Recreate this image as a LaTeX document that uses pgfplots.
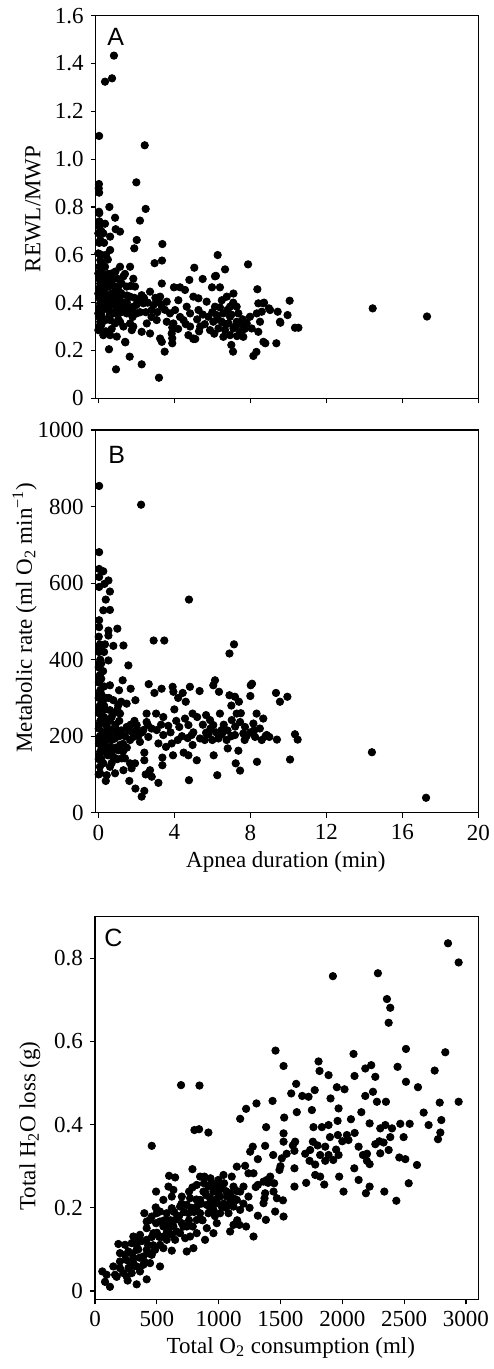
\documentclass[border=0pt]{standalone}
\usepackage{fontspec}
\setmainfont{Liberation Serif}
\newfontfamily\panelfont{Liberation Sans}
\usepackage{pgfplots}
\pgfplotsset{compat=1.18}

\pgfplotsset{
  panel/.style={
    scale only axis, width=191.3pt, height=191.3pt,
    axis line style={line width=0.6pt},
    tick align=outside, xtick pos=left, ytick pos=left,
    major tick length=2.5pt,
    every tick/.style={black,line width=0.6pt},
    tick label style={font=\fontsize{11.5}{13}\selectfont},
    label style={font=\fontsize{11.5}{13}\selectfont},
    /pgf/number format/assume math mode=true,
  },
  dots/.style={only marks, mark=*, mark size=1.85pt, draw=black, fill=black},
}

\begin{document}
\begin{tikzpicture}
\path[use as bounding box] (0,0) rectangle (246.5pt,684.5pt);

% ---- A ----
\begin{axis}[panel, at={(47.85pt,485.35pt)}, anchor=south west,
  xmin=-0.14, xmax=20, ymin=0, ymax=1.6,
  xtick={0,4,8,12,16,20}, xticklabels={},
  ytick={0,0.2,0.4,0.6,0.8,1.0,1.2,1.4,1.6},
  yticklabels={0,0.2,0.4,0.6,0.8,1.0,1.2,1.4,1.6},
  ylabel={REWL/MWP},
  ylabel style={at={(axis description cs:-0.164,0.495)}, anchor=center},
]
\addplot[dots] coordinates {
(0.82,1.433) (0.35,1.324) (0.72,1.338) (0.04,1.097) (2.44,1.058) (2.0,0.903) (0.03,0.896) (0.02,0.878) (0.04,0.860) (2.49,0.792)
(0.58,0.80) (0.03,0.78) (0.88,0.755) (2.19,0.743) (0.91,0.707) (1.14,0.697) (2.02,0.662) (1.89,0.627) (3.37,0.645) (3.35,0.576)
(2.96,0.565) (6.28,0.599) (6.67,0.539) (7.88,0.56) (5.05,0.546) (5.49,0.499) (6.19,0.512) (4.79,0.495) (3.98,0.464) (4.30,0.464)
(4.56,0.453) (5.98,0.464) (6.40,0.464) (8.37,0.456) (10.07,0.408) (8.72,0.40) (8.98,0.376) (14.44,0.376) (17.3,0.342) (9.44,0.362)
(9.96,0.348) (9.58,0.316) (10.35,0.295) (10.53,0.295) (9.37,0.23) (8.79,0.23) (8.16,0.177) (8.32,0.194) (7.09,0.195) (7.0,0.223)
(3.19,0.086) (0.93,0.121) (2.28,0.142) (1.65,0.174) (0.56,0.205) (1.42,0.234) (3.49,0.195) (3.89,0.23) (3.89,0.251) (3.89,0.296)
(5.0,0.248) (5.1,0.248)
(0.0,0.69) (0.1,0.662) (0.0,0.606) (0.1,0.578) (0.0,0.522) (0.1,0.48) (0.0,0.438) (0.1,0.397) (0.0,0.355) (0.1,0.32)
(0.0,0.285) (0.05,0.74) (0.05,0.65) (0.05,0.55) (0.05,0.50) (0.05,0.46) (0.05,0.42) (0.05,0.38) (0.05,0.34) (0.05,0.30)
(0.15,0.45) (0.15,0.36) (0.15,0.60) (0.15,0.70) (0.05,0.774) (0.05,0.718)
(0.26,0.69) (0.35,0.73) (0.62,0.676) (0.62,0.62) (0.35,0.55) (0.26,0.51) (0.53,0.467) (0.26,0.425) (0.44,0.383) (0.35,0.327)
(0.26,0.264) (0.62,0.264) (0.97,0.258) (1.14,0.55) (1.67,0.55) (1.32,0.51) (1.84,0.50) (1.05,0.467) (1.49,0.467) (1.93,0.467)
(1.14,0.425) (1.67,0.425) (0.79,0.41) (1.32,0.383) (1.84,0.383) (2.28,0.431) (0.97,0.355) (1.49,0.355) (2.02,0.355) (1.14,0.32)
(1.67,0.313) (1.84,0.30) (2.37,0.397) (2.72,0.446) (3.25,0.425) (3.34,0.48) (3.60,0.404) (2.81,0.369) (3.34,0.383) (3.77,0.355)
(3.07,0.327) (3.6,0.32) (2.55,0.313) (2.28,0.278) (2.72,0.271) (3.25,0.25) (3.34,0.236) (1.76,0.285) (1.32,0.30) (1.41,0.236)
(4.21,0.41) (4.04,0.369) (4.65,0.383) (5.0,0.425) (5.27,0.418) (4.83,0.355) (5.27,0.369) (4.48,0.327) (4.83,0.30) (5.36,0.30)
(3.95,0.313) (3.86,0.271) (4.74,0.264) (5.0,0.25) (5.7,0.404) (6.14,0.51) (6.14,0.383) (6.5,0.41) (6.76,0.425) (7.11,0.438)
(6.93,0.383) (7.28,0.383) (5.79,0.341) (6.23,0.348) (6.58,0.355) (6.93,0.341) (7.37,0.355) (6.05,0.32) (6.5,0.32) (6.85,0.313)
(7.28,0.32) (5.88,0.285) (6.32,0.292) (6.67,0.285) (7.11,0.292) (7.46,0.278) (6.93,0.264) (6.58,0.257) (7.63,0.257) (7.98,0.341)
(7.81,0.313) (8.34,0.355) (8.6,0.362) (8.51,0.32) (8.07,0.292) (8.42,0.278) (8.69,0.236) (8.42,0.397) (8.69,0.397) (9.04,0.369)
(9.56,0.32)
(0.18,0.522) (0.18,0.467) (0.18,0.369) (0.18,0.341) (0.18,0.313) (0.70,0.522) (0.70,0.438) (0.79,0.355) (0.62,0.327) (0.88,0.313)
(1.05,0.383) (1.23,0.48) (0.53,0.369) (0.44,0.495) (0.4,0.6) (0.5,0.58) (0.3,0.65) (0.2,0.56) (0.9,0.53) (0.6,0.42)
(0.8,0.47) (1.0,0.42) (1.2,0.36) (1.5,0.40) (1.7,0.37) (2.1,0.41) (2.5,0.36) (2.9,0.39) (3.1,0.36) (0.4,0.28) (0.7,0.29)
(0.3,0.45) (0.4,0.40) (0.5,0.52) (0.6,0.35) (0.7,0.48) (0.8,0.39) (0.9,0.45) (1.0,0.50) (1.1,0.37) (1.2,0.44)
(1.3,0.40) (1.4,0.52) (1.5,0.43) (1.6,0.38) (1.7,0.47) (1.8,0.34) (1.9,0.42) (2.0,0.39) (2.2,0.36) (2.4,0.42)
(2.6,0.40) (2.8,0.34) (3.0,0.42) (3.2,0.40) (3.5,0.37) (0.25,0.38) (0.35,0.47) (0.45,0.33) (0.55,0.43) (0.65,0.50)
(0.75,0.40) (0.85,0.36) (0.95,0.40) (1.05,0.33) (0.12,0.40) (0.12,0.50) (0.12,0.55) (0.12,0.30)
(4.3,0.34) (4.6,0.31) (5.2,0.33) (5.5,0.35) (5.6,0.31) (6.0,0.36) (6.3,0.33) (6.7,0.31) (7.0,0.35) (7.2,0.30)
(7.5,0.31) (7.7,0.29) (6.8,0.37) (6.4,0.38) (7.1,0.40) (7.6,0.33) (4.2,0.29) (5.3,0.28) (6.1,0.27) (7.3,0.26)
};
\node[anchor=north west, inner sep=0pt, font=\panelfont\fontsize{12.5}{14}\selectfont] at (rel axis cs:0.0295,0.968) {A};
\end{axis}

% ---- B ----
\begin{axis}[panel, at={(47.85pt,278.15pt)}, anchor=south west,
  xmin=-0.14, xmax=20, ymin=0, ymax=1000,
  xtick={0,4,8,12,16,20}, xticklabels={0,4,8,12,16,20},
  ytick={0,200,400,600,800,1000}, yticklabels={0,200,400,600,800,1000},
  xlabel={Apnea duration (min)},
  xlabel style={at={(axis description cs:0.497,-0.128)}, anchor=center},
  ylabel={Metabolic rate (ml O\textsubscript{2} min\textsuperscript{−1})},
  ylabel style={at={(axis description cs:-0.186,0.51)}, anchor=center},
]
\addplot[dots] coordinates {
(0.04,854) (2.25,805) (0.04,681) (0.04,637) (0.26,631) (0.04,616) (0.53,607) (0.04,590) (0.32,598) (0.39,557)
(0.61,578) (0.26,529) (0.04,503) (0.04,485) (0.61,530) (4.77,557) (0.53,476) (0.53,463) (1.0,481) (0.79,436)
(1.32,437) (2.91,450) (3.47,450) (7.14,440) (6.9,416) (1.58,385) (0.53,398) (2.65,336) (1.28,346) (1.70,324)
(0.61,333) (1.09,320) (1.95,294) (2.95,313) (3.33,324) (3.91,329) (3.95,316) (4.44,313) (4.82,329) (5.33,318)
(6.14,346) (6.05,333) (6.35,316) (6.9,307) (7.19,303) (8.02,333) (8.09,337) (8.0,305) (9.35,313) (9.95,303)
(9.56,290) (10.35,205) (10.49,191) (9.4,191) (10.09,139) (14.4,158) (17.25,39) (2.28,42) (2.42,57) (1.95,63)
(3.16,78) (4.77,85) (0.39,83) (1.63,83) (7.46,110) (6.26,98) (7.23,129) (8.35,133) (5.18,137) (6.07,150)
(4.74,150) (3.93,150) (3.37,124) (3.37,144) (2.42,137) (2.42,157) (7.37,162) (4.49,157)
(3.42,250) (3.04,259) (3.68,227) (3.07,216) (3.42,203) (3.16,181) (3.56,172) (3.86,181) (4.18,190) (4.26,224)
(4.56,246) (4.96,259) (4.74,229) (4.91,203) (4.96,177) (5.35,194) (5.67,255) (5.88,242) (5.67,209) (6.05,229)
(6.40,259) (6.49,216) (6.32,194) (6.75,190) (6.81,168) (7.02,242) (7.28,259) (7.46,237) (7.19,203) (7.63,207)
(7.72,224) (8.16,233) (8.33,259) (8.68,246) (8.25,198) (8.6,190) (8.86,203) (9.0,198) (2.54,259) (2.54,237)
(2.63,198) (2.37,216) (2.02,229) (2.19,185) (1.84,198) (1.49,224) (1.67,190) (1.93,129) (1.75,116) (1.40,142)
(1.32,111) (1.67,129) (2.72,111) (2.81,94) (2.49,100) (1.14,259) (1.05,281) (1.49,285) (0.79,294) (0.61,268)
(0.53,242) (0.88,224) (0.44,207) (0.88,194) (1.14,177) (0.61,172) (0.44,155) (0.79,146) (0.26,129) (0.61,120)
(0.88,103) (0.44,98) (0.09,103) (1.05,163) (1.23,142)
(0.02,100) (0.08,120) (0.02,140) (0.1,160) (0.03,180) (0.08,200) (0.02,220) (0.1,240) (0.03,260) (0.08,280)
(0.02,300) (0.1,320) (0.03,340) (0.08,360) (0.02,380) (0.1,400) (0.03,420) (0.08,440) (0.02,460) (0.05,150)
(0.05,190) (0.05,230) (0.05,270) (0.05,310) (0.05,350) (0.05,390) (0.05,430) (0.2,170) (0.25,210) (0.3,250)
(0.2,290) (0.3,330) (0.25,370) (0.3,420) (0.35,440) (0.4,300) (0.4,190) (0.5,220) (0.6,200) (0.7,250)
(0.8,215) (1.0,205) (1.2,215) (1.4,200) (1.6,215) (1.8,210) (2.0,215) (0.7,160) (0.9,170) (1.1,200)
(0.35,270) (0.55,300)
(4.0,270) (4.4,200) (5.0,210) (5.5,230) (6.2,210) (6.6,230) (7.0,200) (7.5,260) (8.0,210) (8.5,220)
(5.8,205) (6.0,190) (7.8,200) (4.2,300) (4.6,290) (7.0,280) (7.4,290)
(0.3,180) (0.5,170) (0.7,190) (0.9,230) (1.1,240) (1.3,180) (1.5,170) (1.7,230) (1.9,240) (2.1,200)
(2.3,210) (2.6,230) (2.8,220) (0.4,230) (0.6,240) (0.8,260) (1.0,270) (1.2,290) (0.3,280) (0.5,150)
(0.7,130) (1.0,140) (1.3,160) (0.2,250) (0.15,310) (0.15,350) (0.15,390) (0.2,200) (0.15,140)
(5.2,250) (5.6,190) (6.8,215) (7.2,225) (7.7,190) (8.2,215) (8.8,200) (6.5,205) (5.9,220) (4.7,195)
(3.8,210) (3.3,230) (4.1,240)
};
\node[anchor=north west, inner sep=0pt, font=\panelfont\fontsize{12.5}{14}\selectfont] at (rel axis cs:0.032,0.959) {B};
\end{axis}

% ---- C ----
\begin{axis}[panel, at={(47.5pt,34.85pt)}, anchor=south west, width=191.65pt,
  xmin=0, xmax=3100, ymin=-0.02, ymax=0.9,
  xtick={0,500,1000,1500,2000,2500,3000}, xticklabels={0,500,1000,1500,2000,2500,3000},
  ytick={0,0.2,0.4,0.6,0.8}, yticklabels={0,0.2,0.4,0.6,0.8},
  xlabel={Total O\textsubscript{2} consumption (ml)},
  xlabel style={at={(axis description cs:0.511,-0.1265)}, anchor=center},
  ylabel={Total H\textsubscript{2}O loss (g)},
  ylabel style={at={(axis description cs:-0.17,0.453)}, anchor=center},
]
\addplot[dots] coordinates {
(2855,0.836) (2941,0.790) (1924,0.757) (2288,0.764) (2361,0.702) (2388,0.681) (2375,0.645) (1460,0.578) (2515,0.582) (2833,0.574)
(2091,0.570) (1808,0.552) (1525,0.541) (2234,0.543) (2186,0.535) (2447,0.539) (2747,0.530) (1816,0.529) (1889,0.519) (2099,0.517)
(2267,0.515) (2515,0.503) (2612,0.490) (1627,0.498) (696,0.495) (845,0.494) (1956,0.490) (2018,0.485) (1777,0.483) (2248,0.479)
(2186,0.469) (1587,0.475) (1676,0.469) (1727,0.467) (1905,0.463) (2280,0.455) (2353,0.455) (2941,0.455) (2788,0.453) (1306,0.451)
(1436,0.457) (1222,0.438) (1754,0.435) (1632,0.43) (2154,0.43) (2658,0.429) (1970,0.439) (1174,0.414) (1530,0.417) (2070,0.413)
(2221,0.403) (2801,0.411) (2698,0.399) (1962,0.409) (1767,0.394) (1889,0.399) (1835,0.394) (2348,0.399) (2469,0.402) (2545,0.402)
(1384,0.394) (804,0.387) (842,0.389) (917,0.381) (2793,0.381) (2307,0.391) (2402,0.391) (1964,0.375) (2037,0.375) (2774,0.365)
(2388,0.370) (2496,0.370) (1619,0.359) (1762,0.359) (2050,0.363) (2334,0.357) (459,0.349) (1525,0.379) (1525,0.359) (1276,0.347)
(1376,0.349) (1862,0.347) (2132,0.347) (2267,0.353) (2375,0.339) (2307,0.331) (1740,0.339) (1613,0.337) (1255,0.335) (1317,0.317)
(1441,0.327) (1511,0.319) (1821,0.327) (1889,0.327) (1970,0.327) (2167,0.327) (2461,0.321) (2510,0.317) (1735,0.313) (1927,0.315)
(2199,0.313) (2221,0.305) (2604,0.303) (1781,0.304) (1862,0.313) (1147,0.299) (1214,0.301) (788,0.293) (1492,0.291) (2097,0.295)
(1613,0.295) (1417,0.275) (1241,0.283) (1039,0.279) (1106,0.275) (934,0.271) (885,0.275) (850,0.275) (599,0.277) (648,0.273)
(1781,0.279) (1821,0.275) (1708,0.260) (1854,0.256) (1975,0.275) (2132,0.267) (2221,0.251) (2537,0.259) (1613,0.251) (1282,0.283)
(1317,0.255) (1363,0.263) (1390,0.267) (1449,0.259) (594,0.251) (634,0.243) (788,0.249) (823,0.255) (917,0.251) (980,0.255)
(1025,0.251) (1120,0.251) (1201,0.251) (494,0.239) (761,0.239) (877,0.239) (958,0.239) (1093,0.235) (1174,0.239) (1376,0.235)
(1444,0.239) (2010,0.239) (2340,0.239) (2437,0.217) (2191,0.235) (1520,0.218) (1471,0.223) (1363,0.211) (1371,0.223) (1241,0.227)
(1120,0.223) (1066,0.227) (1012,0.227) (931,0.223) (850,0.219) (769,0.223) (702,0.227) (621,0.227) (553,0.219) (1457,0.191)
(1525,0.179) (1382,0.171) (1317,0.181) (1282,0.131) (1168,0.159) (1222,0.155) (1093,0.143) (1120,0.159) (985,0.163) (958,0.139)
(890,0.123) (904,0.151) (823,0.171) (756,0.187) (850,0.187) (958,0.195) (1025,0.203) (1120,0.203) (1174,0.195) (688,0.203)
(621,0.199) (580,0.187) (648,0.171) (702,0.163) (742,0.155) (823,0.139) (729,0.127) (648,0.123) (796,0.103) (742,0.095)
(491,0.201) (526,0.191) (399,0.187) (445,0.171) (494,0.163) (553,0.155) (594,0.147) (621,0.135) (580,0.123) (526,0.111)
(486,0.099) (553,0.103) (621,0.097) (418,0.151) (364,0.135) (472,0.139) (418,0.123) (351,0.123) (297,0.115) (243,0.111)
(189,0.113) (270,0.095) (337,0.099) (418,0.099) (459,0.087) (391,0.083) (310,0.079) (251,0.075) (202,0.071) (148,0.059)
(202,0.055) (270,0.055) (337,0.059) (391,0.063) (445,0.067) (526,0.059) (310,0.067) (364,0.047) (297,0.043) (229,0.043)
(162,0.039) (256,0.035) (418,0.028) (337,0.016) (264,0.025) (121,0.010) (59,0.047) (94,0.039) (81,0.022) (175,0.034)
(202,0.091) (243,0.087) (337,0.111) (310,0.131) (418,0.167) (459,0.179) (499,0.187) (526,0.167) (580,0.171) (634,0.155)
(661,0.143) (715,0.155) (688,0.139) (769,0.131) (791,0.155) (863,0.171) (917,0.187) (1012,0.187) (1080,0.187) (1093,0.211)
(1147,0.219) (985,0.211) (904,0.207) (823,0.203) (742,0.207) (890,0.237) (990,0.237) (998,0.267) (944,0.259) (882,0.259)
(1044,0.259)
(300,0.09) (350,0.10) (380,0.12) (430,0.11) (460,0.13) (500,0.14) (540,0.13) (560,0.17) (600,0.16) (640,0.19)
(680,0.18) (720,0.19) (780,0.20) (820,0.22) (860,0.21) (900,0.23) (940,0.21) (980,0.22) (1000,0.24) (1040,0.21)
(1060,0.24) (1100,0.22) (1150,0.24) (1200,0.21) (950,0.25) (1000,0.26) (400,0.07) (360,0.08) (320,0.06) (280,0.07)
(440,0.09) (470,0.11) (520,0.13) (580,0.14) (610,0.17) (700,0.21) (760,0.17) (800,0.19) (870,0.17) (930,0.20)
(970,0.18) (1060,0.20) (1150,0.17) (1250,0.20) (1300,0.25) (1400,0.26) (1500,0.30) (1550,0.33) (1600,0.35) (1700,0.33)
(1800,0.35) (1900,0.37) (1950,0.34) (2000,0.36) (2100,0.38) (2200,0.33) (2300,0.36)
};
\node[anchor=north west, inner sep=0pt, font=\panelfont\fontsize{12.5}{14}\selectfont] at (rel axis cs:0.0235,0.970) {C};
\end{axis}
\end{tikzpicture}
\end{document}
